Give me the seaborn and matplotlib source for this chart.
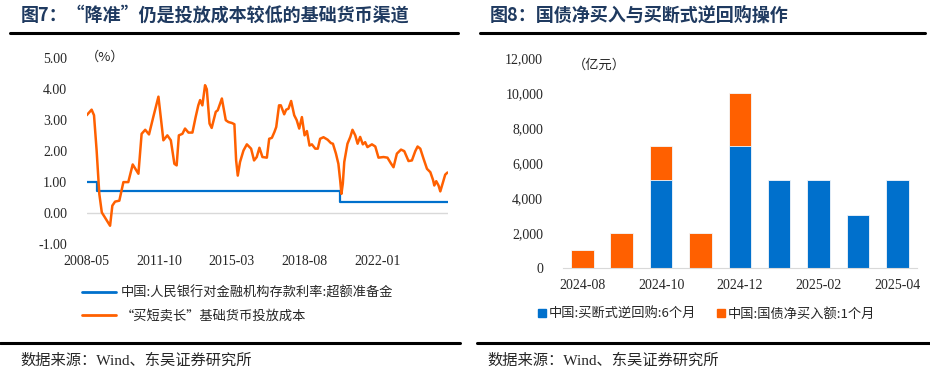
import pandas as pd
import seaborn as sns
import matplotlib.pyplot as plt
from matplotlib.lines import Line2D
from matplotlib.patches import Patch

# left chart: "buy short sell long" base money cost vs excess reserve rate
cost_dates = ['2008-05-01', '2008-07-25', '2008-09-04', '2008-10-19', '2008-12-04',
              '2009-01-16', '2009-03-10', '2009-06-07', '2009-07-16', '2009-09-01',
              '2009-11-13', '2010-01-22', '2010-04-16', '2010-07-01', '2010-10-07',
              '2010-12-01', '2011-02-01', '2011-04-07', '2011-06-19', '2011-09-16',
              '2011-12-10', '2012-02-16', '2012-04-16', '2012-06-16', '2012-07-25',
              '2012-09-01', '2012-11-01', '2012-12-16', '2013-02-13', '2013-04-22',
              '2013-06-16', '2013-08-01', '2013-09-01', '2013-10-10', '2013-11-25',
              '2013-12-25', '2014-02-10', '2014-03-19', '2014-05-28', '2014-07-01',
              '2014-09-10', '2014-11-16', '2015-01-01', '2015-03-01', '2015-04-13',
              '2015-05-13', '2015-06-10', '2015-07-19', '2015-09-16', '2015-11-13',
              '2016-01-25', '2016-03-16', '2016-05-01', '2016-06-16', '2016-08-07',
              '2016-10-22', '2016-12-01', '2017-01-16', '2017-03-01', '2017-04-01',
              '2017-05-19', '2017-06-19', '2017-08-16', '2017-09-19', '2017-10-28',
              '2017-12-13', '2018-02-04', '2018-03-19', '2018-05-01', '2018-06-16',
              '2018-08-01', '2018-09-10', '2018-10-25', '2018-12-04', '2019-02-01',
              '2019-03-16', '2019-04-25', '2019-06-22', '2019-09-01', '2019-10-28',
              '2019-12-01', '2020-01-22', '2020-03-04', '2020-04-04', '2020-04-25',
              '2020-05-19', '2020-06-13', '2020-08-07', '2020-09-25', '2020-11-01',
              '2020-12-19', '2021-01-28', '2021-03-13', '2021-04-28', '2021-06-07',
              '2021-07-16', '2021-10-01', '2021-11-28', '2022-01-22', '2022-04-19',
              '2022-06-25', '2022-08-22', '2022-10-07', '2022-12-04', '2023-02-13',
              '2023-04-10', '2023-06-22', '2023-08-19', '2023-10-16', '2023-11-25',
              '2024-01-10', '2024-03-07', '2024-05-04', '2024-07-01', '2024-08-16',
              '2024-09-07', '2024-10-10', '2024-11-19', '2024-12-19', '2025-02-04',
              '2025-03-13', '2025-04-22']
cost_values = [3.16, 3.34, 3.16, 2.02, 0.62,
               0.02, -0.14, -0.41, 0.24, 0.37,
               0.40, 1.00, 1.00, 1.57, 1.27,
               2.56, 2.69, 2.54, 3.10, 3.76,
               2.35, 2.51, 2.35, 1.59, 1.54,
               2.51, 2.56, 2.73, 2.60, 2.60,
               3.10, 3.48, 3.65, 3.48, 4.13,
               4.00, 2.89, 2.75, 3.27, 3.32,
               3.70, 3.00, 2.94, 2.91, 2.87,
               1.70, 1.21, 1.65, 2.02, 2.22,
               2.08, 1.70, 1.81, 2.11, 1.81,
               1.79, 2.40, 2.43, 2.62, 2.78,
               3.48, 3.48, 3.19, 3.34, 3.37,
               3.62, 3.16, 3.00, 2.73, 3.10,
               2.51, 2.65, 2.18, 2.22, 2.08,
               2.08, 2.40, 2.45, 2.37, 2.26,
               2.24, 1.92, 1.59, 1.05, 0.62,
               0.95, 1.65, 2.24, 2.46, 2.69,
               2.51, 2.24, 2.46, 2.22, 2.29,
               2.13, 2.22, 2.15, 1.79, 1.81,
               1.79, 1.61, 1.48, 1.92, 2.05,
               2.00, 1.68, 1.70, 2.00, 2.15,
               2.08, 1.75, 1.43, 1.32, 1.07,
               0.89, 1.03, 0.89, 0.70, 1.00,
               1.24, 1.31]

ioer_dates = ['2008-05-01', '2008-10-20', '2020-04-01', '2025-04-22']
ioer_values = [0.99, 0.72, 0.35, 0.35]

left_ticks = ['2008-05', '2011-10', '2015-03', '2018-08', '2022-01']

# right chart: outright reverse repo and treasury net purchases (100m yuan)
months = ['2024-08', '2024-09', '2024-10', '2024-11', '2024-12',
          '2025-01', '2025-02', '2025-03', '2025-04']
repo_6m = [0, 0, 5000, 0, 7000, 5000, 5000, 3000, 5000]
bond_buy = [1000, 2000, 2000, 2000, 3000, 0, 0, 0, 0]

BLUE = '#0070CC'
ORANGE = '#FF6000'
NAVY = '#1F3A60'
FONTS = ['Liberation Serif', 'Noto Sans CJK SC', 'DejaVu Sans']
CJK = ['Noto Sans CJK SC', 'DejaVu Sans']

sns.set_style('white')
plt.rcParams['font.family'] = FONTS

fig = plt.figure(figsize=(9.3, 3.76), dpi=100)

# ---- left chart
cost = pd.DataFrame({'date': pd.to_datetime(cost_dates), 'value': cost_values})
ioer = pd.DataFrame({'date': pd.to_datetime(ioer_dates), 'value': ioer_values})

ax1 = fig.add_axes([0.0932, 0.351, 0.388, 0.494])
ax1.axhline(0, color='#D9D9D9', lw=1, zorder=0)
sns.lineplot(data=ioer, x='date', y='value', ax=ax1, color=BLUE, lw=1.6,
             drawstyle='steps-post')
sns.lineplot(data=cost, x='date', y='value', ax=ax1, color=ORANGE, lw=1.8)
ax1.set_ylim(-1, 5)
ax1.set_yticks([-1, 0, 1, 2, 3, 4, 5])
ax1.set_yticklabels([f'{v:.2f}' for v in [-1, 0, 1, 2, 3, 4, 5]])
ax1.set_xlim(cost['date'].min(), cost['date'].max())
ax1.set_xticks(pd.to_datetime(left_ticks))
ax1.set_xticklabels(left_ticks)
ax1.set_xlabel('')
ax1.set_ylabel('')
ax1.tick_params(axis='y', length=0, pad=14, labelsize=10)
ax1.tick_params(axis='x', length=0, pad=8, labelsize=10)
sns.despine(ax=ax1, left=True, bottom=True)
fig.text(0.092, 0.847, '（%）', fontsize=9.5, family=CJK, va='center')

# ---- right chart
bars = pd.DataFrame({'month': months, 'repo': repo_6m, 'bond': bond_buy})
bars['total'] = bars['repo'] + bars['bond']

ax2 = fig.add_axes([0.605, 0.288, 0.381, 0.557])
sns.barplot(data=bars, x='month', y='total', ax=ax2, color=ORANGE,
            width=0.57, saturation=1, edgecolor='#F4F8FC', linewidth=0.6)
sns.barplot(data=bars, x='month', y='repo', ax=ax2, color=BLUE,
            width=0.57, saturation=1, edgecolor='#F4F8FC', linewidth=0.6)
ax2.set_xlim(-0.5, len(months) - 0.5)
ax2.set_ylim(0, 12000)
ax2.set_yticks(range(0, 12001, 2000))
ax2.set_yticklabels([f'{v:,}' for v in range(0, 12001, 2000)])
ax2.set_xticks(range(0, len(months), 2))
ax2.set_xticklabels(months[::2])
ax2.set_xlabel('')
ax2.set_ylabel('')
ax2.tick_params(axis='y', length=0, pad=14, labelsize=10)
ax2.tick_params(axis='x', length=0, pad=8, labelsize=10)
sns.despine(ax=ax2, left=True)
ax2.spines['bottom'].set_color('#D9D9D9')
fig.text(0.616, 0.827, '（亿元）', fontsize=9.5, family=CJK, va='center')

# ---- legends
h_left = [Line2D([], [], color=BLUE, lw=2),
          Line2D([], [], color=ORANGE, lw=2)]
fig.legend(h_left, ['中国:人民银行对金融机构存款利率:超额准备金',
                    '“买短卖长”基础货币投放成本'],
           loc='center left', bbox_to_anchor=(0.075, 0.189), frameon=False,
           prop={'family': CJK, 'size': 9.5}, handlelength=2.6,
           labelspacing=0.75, handletextpad=0.4)

h_right = [Patch(color=BLUE), Patch(color=ORANGE)]
fig.legend(h_right, ['中国:买断式逆回购:6个月', '中国:国债净买入额:1个月'],
           loc='center left', bbox_to_anchor=(0.566, 0.165), frameon=False,
           prop={'family': CJK, 'size': 9.5}, ncol=2, handlelength=0.6,
           handleheight=0.6, handletextpad=0.2, columnspacing=1.6)

# ---- titles, rules and source notes
fig.text(0.022, 0.96, '图7：“降准”仍是投放成本较低的基础货币渠道', fontsize=13,
         fontweight='bold', color=NAVY, family=CJK, va='center')
fig.text(0.527, 0.96, '图8：国债净买入与买断式逆回购操作', fontsize=13,
         fontweight='bold', color=NAVY, family=CJK, va='center')
for x0, x1 in [(0.011, 0.493), (0.516, 0.995)]:
    fig.add_artist(Line2D([x0, x1], [0.912, 0.912], color='black', lw=2.2))
for x0, x1 in [(0.0, 0.495), (0.513, 1.0)]:
    fig.add_artist(Line2D([x0, x1], [0.088, 0.088], color='black', lw=2.2))
fig.text(0.022, 0.04, '数据来源：Wind、东吴证券研究所', fontsize=11,
         family=['Liberation Serif', 'Noto Sans CJK SC'], va='center')
fig.text(0.524, 0.04, '数据来源：Wind、东吴证券研究所', fontsize=11,
         family=['Liberation Serif', 'Noto Sans CJK SC'], va='center')

fig.savefig('out.png', dpi=100)
